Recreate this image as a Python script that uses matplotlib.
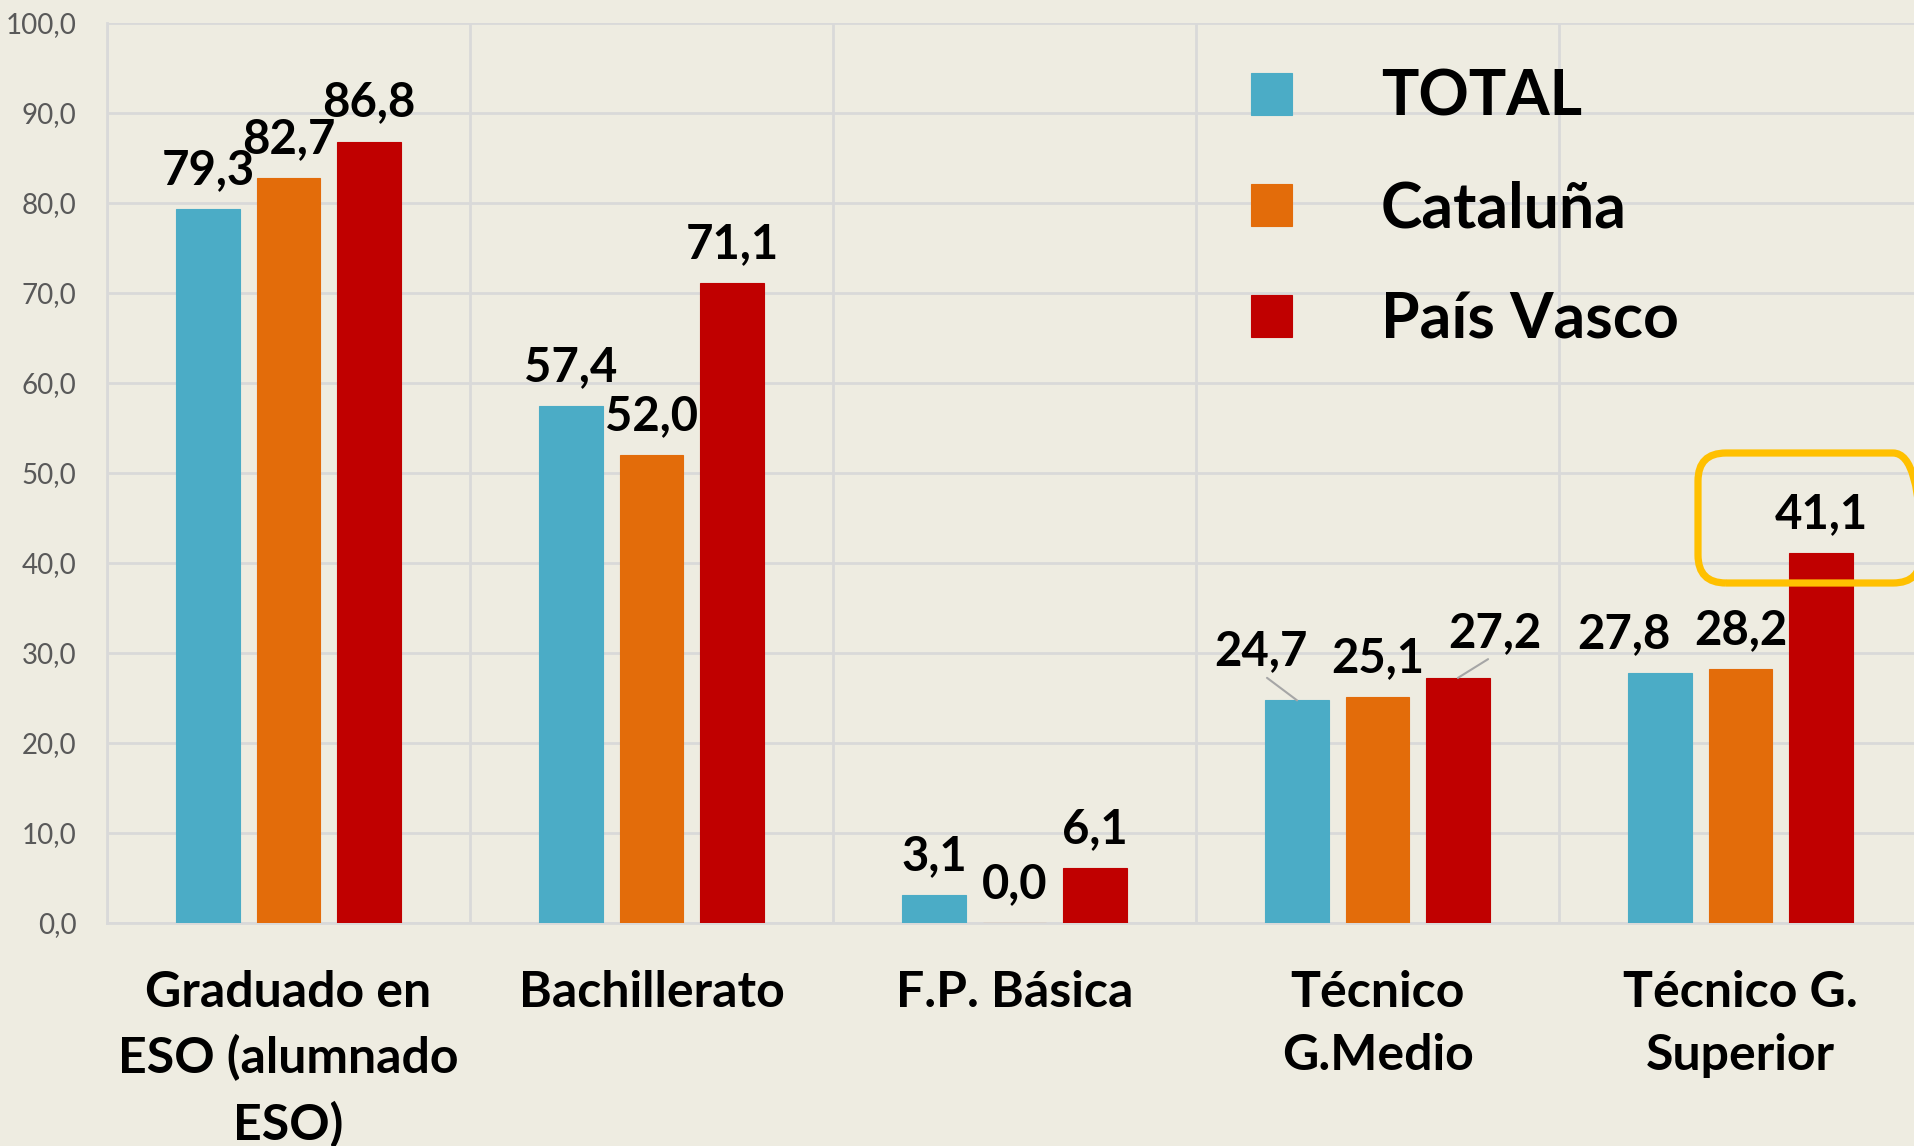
import matplotlib
matplotlib.use("Agg")
import matplotlib.pyplot as plt
import numpy as np
from matplotlib.patches import FancyBboxPatch
from matplotlib.transforms import IdentityTransform

# ---- data ----
categories = ["Graduado en\nESO (alumnado\nESO)", "Bachillerato", "F.P. Básica",
              "Técnico\nG.Medio", "Técnico G.\nSuperior"]
series_names = ["TOTAL", "Cataluña", "País Vasco"]
total = [79.3, 57.4, 3.1, 24.7, 27.8]
cataluna = [82.7, 52.0, 0.0, 25.1, 28.2]
pais_vasco = [86.8, 71.1, 6.1, 27.2, 41.1]
yticks = [0, 10, 20, 30, 40, 50, 60, 70, 80, 90, 100]

colors = ["#4BACC6", "#E36C0A", "#C00000"]
bg = "#EEECE1"
grid_c = "#D9D9D9"

# label offsets in pixels (dx, dy above bar top) for special labels: (series, cat)
default_off = (0, 25)
special_off = {(0, 3): (-36, 35), (2, 3): (37, 31), (0, 4): (-36, 24)}
leaders = {(0, 3), (2, 3)}

FONT = "Lato"
W, H = 1915, 1146
DPI = 100
fig = plt.figure(figsize=(W / DPI, H / DPI), dpi=DPI, facecolor=bg)
ax_left, ax_right = 107, 1922
ax_top, ax_bot = 22.7, 922.7
ax = fig.add_axes([ax_left / W, 1 - ax_bot / H, (ax_right - ax_left) / W, (ax_bot - ax_top) / H])
ax.set_facecolor(bg)

x = np.arange(len(categories))
bw = 0.175
step = 0.2215
all_series = [total, cataluna, pais_vasco]
px2pt = 72 / DPI
for i, (vals, name, c) in enumerate(zip(all_series, series_names, colors)):
    xs = x + (i - 1) * step
    ax.bar(xs, vals, width=bw, color=c, label=name, zorder=3,
           edgecolor=c, linewidth=0.8)
    for j, v in enumerate(vals):
        dx, dy = special_off.get((i, j), default_off)
        lab = f"{v:.1f}".replace(".", ",")
        kw = {}
        if (i, j) in leaders:
            kw["arrowprops"] = dict(arrowstyle="-", color="#A6A6A6", lw=1.5,
                                    shrinkA=2, shrinkB=0, relpos=(0.5, 0.0))
        ax.annotate(lab, xy=(xs[j], v), xytext=(dx * px2pt, dy * px2pt),
                    textcoords="offset points", ha="center", va="baseline",
                    fontsize=34, fontweight="bold", family=FONT, color="black",
                    zorder=5, **kw)

ax.set_xlim(-0.5, 4.5)
ax.set_ylim(0, 100)
ax.set_yticks(yticks)
ax.set_yticklabels([f"{t:.1f}".replace(".", ",") for t in yticks],
                   fontsize=20, family=FONT, color="#595959")
ax.set_xticks(x)
ax.set_xticklabels(categories, fontsize=36, fontweight="bold", family=FONT,
                   color="black", linespacing=1.5)
ax.tick_params(axis="y", length=0, pad=22)
ax.tick_params(axis="x", length=0, pad=34)

# gridlines
ax.yaxis.grid(True, color=grid_c, lw=2, zorder=0)
ax.set_xticks(np.arange(-0.5, 5.0, 1.0), minor=True)
ax.xaxis.grid(True, which="minor", color=grid_c, lw=2, zorder=0)
ax.tick_params(axis="x", which="minor", length=0)
for s in ["top", "right"]:
    ax.spines[s].set_visible(False)
for s in ["left", "bottom"]:
    ax.spines[s].set_color(grid_c)
    ax.spines[s].set_linewidth(2)

leg = ax.legend(loc="upper left", bbox_to_anchor=(1251 / W, 1 - 69 / H),
                bbox_transform=fig.transFigure, frameon=False,
                prop=dict(family=FONT, weight="bold", size=45),
                handlelength=0.66, handleheight=0.66, handletextpad=1.42,
                labelspacing=0.85, borderpad=0, borderaxespad=0)

# highlight box
box = FancyBboxPatch((1698, H - 583), 1921 - 1698, 583 - 453,
                     boxstyle="round,pad=0,rounding_size=28",
                     transform=IdentityTransform(), fill=False,
                     edgecolor="#FFC000", linewidth=5.2, zorder=10)
fig.add_artist(box)

fig.savefig("out.png", dpi=DPI, facecolor=bg)
